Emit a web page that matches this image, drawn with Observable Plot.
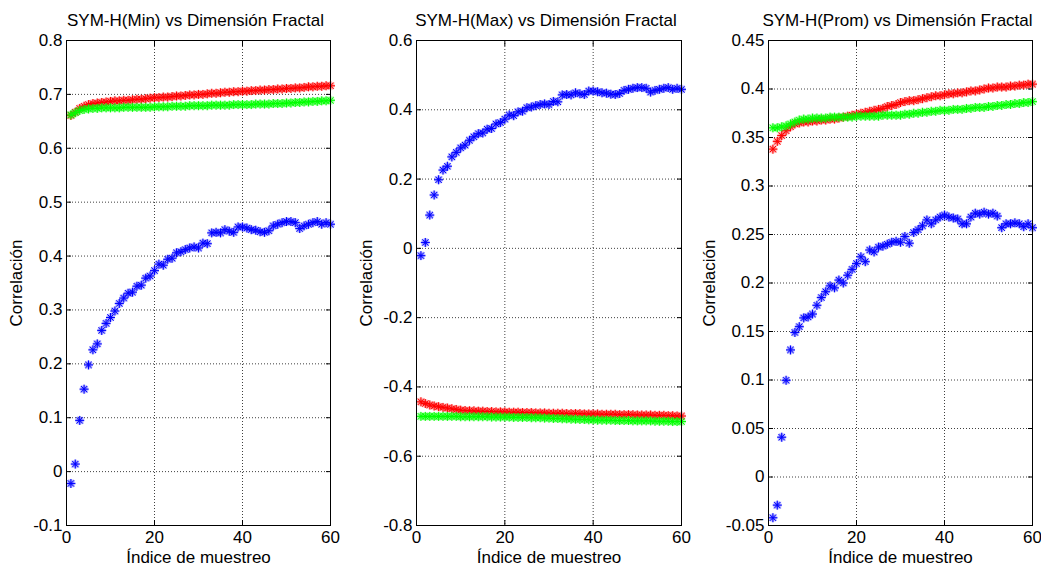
<!DOCTYPE html>
<html>
<head>
<meta charset="utf-8">
<script src="https://cdn.jsdelivr.net/npm/d3@7"></script>
<script src="https://cdn.jsdelivr.net/npm/@observablehq/plot@0.6"></script>
<style>
  html, body { margin: 0; padding: 0; background: #fff; }
  #wrap { position: relative; width: 1041px; height: 567px; overflow: hidden; background: #fff; }
  #wrap svg { position: absolute; top: 0; }
</style>
</head>
<body>
<div id="wrap"></div>
<script>
// ---------- data ----------
const sampleIndex = d3.range(1, 61);
const xTicks = [0, 20, 40, 60];

const titles = [
  "SYM-H(Min) vs Dimensión Fractal",
  "SYM-H(Max) vs Dimensión Fractal",
  "SYM-H(Prom) vs Dimensión Fractal"
];
const xLabel = "Índice de muestreo";
const yLabel = "Correlación";

const yTicksMin = [-0.1, 0, 0.1, 0.2, 0.3, 0.4, 0.5, 0.6, 0.7, 0.8];
const yTicksMax = [-0.8, -0.6, -0.4, -0.2, 0, 0.2, 0.4, 0.6];
const yTicksProm = [-0.05, 0, 0.05, 0.1, 0.15, 0.2, 0.25, 0.3, 0.35, 0.4, 0.45];

// Panel 1: SYM-H(Min)
const redMin = [0.661,0.667,0.674,0.678,0.681,0.683,0.684,0.685,0.686,0.687,
  0.688,0.688,0.689,0.689,0.690,0.691,0.691,0.692,0.693,0.694,
  0.694,0.695,0.695,0.696,0.697,0.697,0.698,0.699,0.699,0.700,
  0.700,0.701,0.702,0.702,0.703,0.704,0.704,0.705,0.705,0.706,
  0.706,0.707,0.707,0.708,0.708,0.709,0.709,0.710,0.710,0.711,
  0.711,0.712,0.712,0.713,0.714,0.714,0.715,0.715,0.716,0.716];
const greenMin = [0.662,0.666,0.670,0.672,0.673,0.674,0.674,0.675,0.675,0.675,
  0.675,0.675,0.676,0.676,0.676,0.676,0.676,0.676,0.676,0.677,
  0.677,0.677,0.677,0.678,0.678,0.678,0.678,0.679,0.679,0.679,
  0.679,0.679,0.680,0.680,0.680,0.680,0.680,0.681,0.681,0.681,
  0.681,0.681,0.682,0.682,0.682,0.682,0.683,0.683,0.683,0.684,
  0.684,0.685,0.685,0.686,0.686,0.687,0.687,0.688,0.688,0.689];
const blueMin = [-0.022,0.014,0.095,0.153,0.198,0.226,0.237,0.262,0.275,0.286,
  0.298,0.312,0.322,0.331,0.333,0.344,0.346,0.359,0.363,0.373,
  0.385,0.383,0.394,0.396,0.406,0.408,0.412,0.415,0.417,0.415,
  0.424,0.423,0.443,0.444,0.443,0.449,0.446,0.444,0.454,0.454,
  0.452,0.449,0.448,0.445,0.444,0.447,0.456,0.459,0.462,0.464,
  0.464,0.462,0.451,0.456,0.459,0.462,0.464,0.459,0.462,0.459];

// Panel 2: SYM-H(Max)
const redMax = [-0.443,-0.448,-0.452,-0.455,-0.457,-0.459,-0.461,-0.463,-0.465,-0.467,
  -0.468,-0.469,-0.469,-0.470,-0.470,-0.471,-0.471,-0.472,-0.472,-0.472,
  -0.473,-0.473,-0.473,-0.474,-0.474,-0.474,-0.475,-0.475,-0.475,-0.476,
  -0.476,-0.476,-0.476,-0.477,-0.477,-0.477,-0.477,-0.478,-0.478,-0.478,
  -0.478,-0.479,-0.479,-0.479,-0.479,-0.480,-0.480,-0.480,-0.480,-0.481,
  -0.481,-0.481,-0.481,-0.482,-0.482,-0.482,-0.483,-0.483,-0.484,-0.484];
const greenMax = [-0.485,-0.485,-0.485,-0.485,-0.485,-0.485,-0.485,-0.485,-0.485,-0.486,
  -0.486,-0.486,-0.486,-0.486,-0.486,-0.486,-0.487,-0.487,-0.487,-0.487,
  -0.487,-0.488,-0.488,-0.488,-0.488,-0.489,-0.489,-0.489,-0.490,-0.490,
  -0.491,-0.491,-0.492,-0.492,-0.493,-0.493,-0.494,-0.494,-0.495,-0.495,
  -0.496,-0.496,-0.496,-0.496,-0.497,-0.497,-0.497,-0.497,-0.498,-0.498,
  -0.498,-0.498,-0.498,-0.499,-0.499,-0.499,-0.499,-0.500,-0.500,-0.500];
const blueMax = [-0.021,0.017,0.096,0.154,0.198,0.226,0.237,0.264,0.277,0.290,
  0.298,0.312,0.322,0.331,0.333,0.344,0.346,0.359,0.363,0.373,
  0.385,0.383,0.394,0.396,0.406,0.408,0.412,0.415,0.417,0.415,
  0.424,0.423,0.443,0.444,0.443,0.449,0.446,0.444,0.454,0.454,
  0.452,0.449,0.448,0.445,0.444,0.447,0.456,0.459,0.462,0.464,
  0.464,0.462,0.451,0.456,0.459,0.462,0.464,0.459,0.462,0.459];

// Panel 3: SYM-H(Prom)
const redProm = [0.338,0.346,0.352,0.357,0.361,0.364,0.365,0.366,0.366,0.367,
  0.367,0.368,0.368,0.369,0.369,0.370,0.371,0.372,0.373,0.374,
  0.375,0.376,0.377,0.378,0.379,0.380,0.382,0.383,0.384,0.386,
  0.387,0.388,0.388,0.389,0.390,0.391,0.392,0.393,0.393,0.394,
  0.395,0.395,0.396,0.396,0.397,0.398,0.398,0.399,0.400,0.401,
  0.401,0.402,0.402,0.402,0.403,0.403,0.404,0.404,0.405,0.405];
const greenProm = [0.360,0.360,0.361,0.362,0.364,0.366,0.368,0.369,0.369,0.370,
  0.370,0.370,0.370,0.371,0.371,0.371,0.371,0.371,0.371,0.372,
  0.372,0.372,0.372,0.372,0.372,0.373,0.373,0.373,0.373,0.373,
  0.374,0.374,0.375,0.375,0.376,0.376,0.377,0.377,0.378,0.378,
  0.378,0.379,0.379,0.379,0.380,0.380,0.381,0.381,0.381,0.382,
  0.382,0.383,0.383,0.384,0.384,0.385,0.385,0.386,0.386,0.387];
const blueProm = [-0.042,-0.029,0.041,0.0997,0.131,0.149,0.155,0.164,0.165,0.168,
  0.177,0.185,0.191,0.197,0.195,0.203,0.200,0.208,0.214,0.220,
  0.227,0.222,0.234,0.232,0.237,0.238,0.240,0.242,0.243,0.242,
  0.248,0.241,0.252,0.255,0.259,0.265,0.261,0.265,0.268,0.270,
  0.268,0.267,0.266,0.261,0.261,0.268,0.272,0.271,0.273,0.271,
  0.272,0.269,0.257,0.261,0.261,0.262,0.261,0.258,0.261,0.257];

const seriesColors = {red: "#ff0000", green: "#00ff00", blue: "#0000ff"};

// ---------- layout / drawing ----------
const FONT = "'Liberation Sans', Arial, Helvetica, sans-serif";
const fmt = d => String(Math.round(d * 100) / 100);

const panels = [
  {left: 0,   width: 347, ml: 66, mr: 17, yDomain: [-0.1, 0.8],  yTicks: yTicksMin,  labelOffset: 57,
   series: [["blue", blueMin], ["red", redMin], ["green", greenMin]], title: titles[0]},
  {left: 350, width: 347, ml: 66, mr: 16, yDomain: [-0.8, 0.6],  yTicks: yTicksMax,  labelOffset: 57,
   series: [["blue", blueMax], ["red", redMax], ["green", greenMax]], title: titles[1]},
  {left: 700, width: 341, ml: 68, mr: 9,  yDomain: [-0.05, 0.45], yTicks: yTicksProm, labelOffset: 66,
   series: [["blue", blueProm], ["red", redProm], ["green", greenProm]], title: titles[2]}
];

const wrap = document.getElementById("wrap");

for (const p of panels) {
  const starMarks = [];
  for (const [name, vals] of p.series) {
    const data = sampleIndex.map((x, i) => ({x, y: vals[i]}));
    const c = seriesColors[name];
    starMarks.push(
      Plot.dot(data, {x: "x", y: "y", symbol: "plus",  r: 3, stroke: c, strokeWidth: 2.6, strokeOpacity: 0.3}),
      Plot.dot(data, {x: "x", y: "y", symbol: "times", r: 3, stroke: c, strokeWidth: 2.6, strokeOpacity: 0.3}),
      Plot.dot(data, {x: "x", y: "y", symbol: "plus",  r: 3, stroke: c, strokeWidth: 1}),
      Plot.dot(data, {x: "x", y: "y", symbol: "times", r: 3, stroke: c, strokeWidth: 1})
    );
  }

  const chart = Plot.plot({
    width: p.width,
    height: 567,
    marginLeft: p.ml,
    marginRight: p.mr,
    marginTop: 40,
    marginBottom: 42,
    style: {fontFamily: FONT, fontSize: "17px", color: "#000", background: "transparent", overflow: "visible"},
    x: {domain: [0, 60]},
    y: {domain: p.yDomain},
    marks: [
      Plot.gridX({ticks: xTicks, stroke: "#000", strokeOpacity: 0.75, strokeDasharray: "1,2"}),
      Plot.gridY({ticks: p.yTicks, stroke: "#000", strokeOpacity: 0.75, strokeDasharray: "1,2"}),
      ...starMarks,
      Plot.frame({stroke: "#000", strokeWidth: 1}),
      Plot.axisX({ticks: xTicks, anchor: "bottom", tickSize: 5, dy: -5, fill: "none", label: null}),
      Plot.axisX({ticks: xTicks, anchor: "top", tickSize: 5, dy: 5, fill: "none", label: null}),
      Plot.axisY({ticks: p.yTicks, anchor: "left", tickSize: 5, dx: 5, fill: "none", label: null}),
      Plot.axisY({ticks: p.yTicks, anchor: "right", tickSize: 5, dx: -5, fill: "none", label: null}),
      Plot.axisX({ticks: xTicks, anchor: "bottom", tickSize: 0, tickPadding: 5, stroke: "none",
        tickFormat: fmt, label: null}),
      Plot.text([xLabel], {frameAnchor: "bottom", dy: 37, fontSize: 17, fill: "#000"}),
      Plot.axisY({ticks: p.yTicks, anchor: "left", tickSize: 0, tickPadding: 4, stroke: "none",
        tickFormat: fmt, label: yLabel, labelAnchor: "center", labelArrow: "none", labelOffset: p.labelOffset}),
      Plot.text([p.title], {frameAnchor: "top", dy: -27, dx: -3, fontSize: 17, fill: "#000"})
    ]
  });
  chart.style.left = p.left + "px";
  wrap.appendChild(chart);
}
</script>
</body>
</html>
